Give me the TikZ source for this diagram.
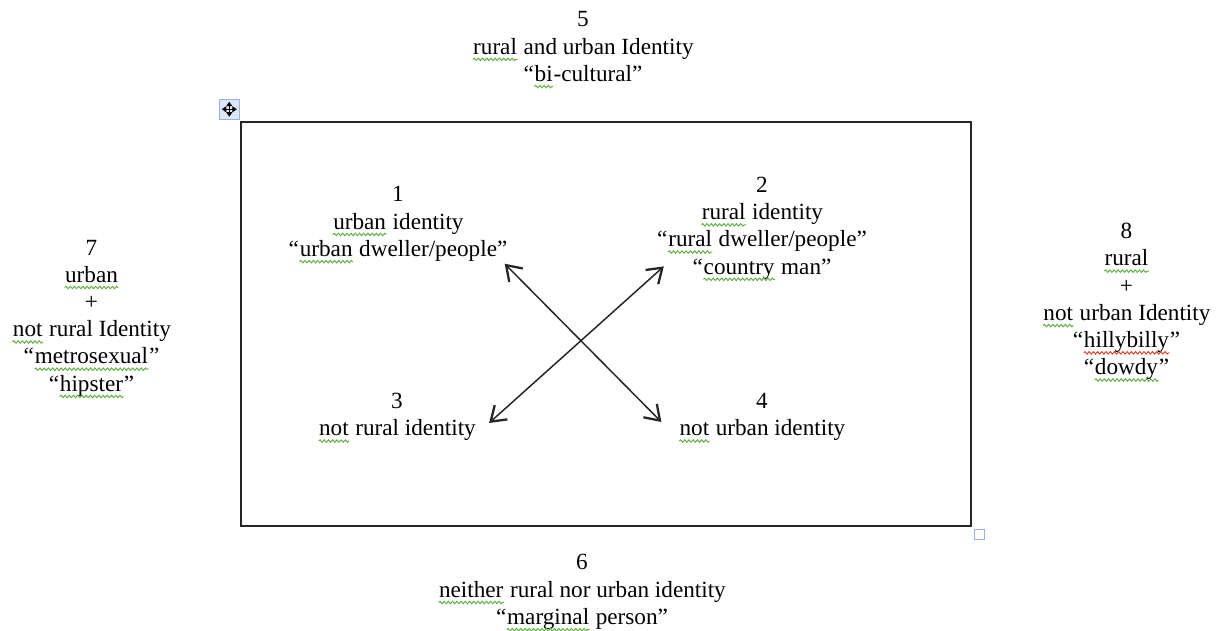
\documentclass[tikz,border=0pt]{standalone}
\usepackage{fontspec}
\setmainfont{Liberation Serif}
\usetikzlibrary{arrows.meta,positioning,decorations.pathmorphing}
\definecolor{spgreen}{RGB}{96,176,64}
\definecolor{spred}{RGB}{222,64,48}
\definecolor{hdlblue}{RGB}{150,178,236}
\definecolor{hdlfill}{RGB}{222,231,250}
% spell-check squiggle under a word
\newcommand\wavy[2]{\tikz[baseline=(w.base)]{\node[inner sep=0pt] (w) {#2};
  \draw[#1, line width=0.55pt, decorate, decoration={snake, amplitude=0.7pt, segment length=2.4pt}]
    ([yshift=-3pt]w.base west) -- ([yshift=-3pt]w.base east);}}
\newcommand\gwave[1]{\wavy{spgreen}{#1}}
\newcommand\rwave[1]{\wavy{spred}{#1}}

\begin{document}
\begin{tikzpicture}[x=0.02cm, y=-0.02cm,
  lbl/.style={align=center, inner sep=0pt, font=\fontsize{13.2}{15.5}\selectfont},
  both/.style={{Straight Barb[length=2.8mm,width=3.8mm,line width=1.3pt]}-{Straight Barb[length=2.8mm,width=3.8mm,line width=1.3pt]}, line width=0.85pt, black!85}]
\useasboundingbox (0,0) rectangle (1220,631);

% frame and its handles
\node[draw=black!85, line width=0.9pt, minimum width=14.6cm, minimum height=8.08cm, inner sep=0pt] (frame) at (606,324) {};
\node[draw=hdlblue, fill=hdlfill, minimum size=0.4cm, inner sep=0pt, line width=0.6pt] (handle) at ([xshift=-0.22cm, yshift=0.24cm]frame.north west) {};
\foreach \a in {0,90,180,270}
  \draw[-{Triangle[length=0.9mm,width=1.2mm]}, line width=0.5pt] (handle.center) -- ++(\a:0.15cm);
\node[draw=hdlblue, fill=white, minimum size=0.2cm, inner sep=0pt, line width=0.6pt] (sizer) at ([xshift=0.146cm, yshift=-0.146cm]frame.south east) {};

% inner identities
\node[lbl] (n1) at (398,225) {1\\\gwave{urban} identity\\“\gwave{urban} dweller/people”};
\node[lbl] (n2) at (762,229) {2\\\gwave{rural} identity\\“\gwave{rural} dweller/people”\\“\gwave{country} man”};
\node[lbl] (n3) at (397,418) {3\\\gwave{not} rural identity};
\node[lbl] (n4) at (762,418) {4\\\gwave{not} urban identity};

% outer identities
\node[lbl] (n5) at (583,50) {5\\\gwave{rural} and urban Identity\\“\gwave{bi}-cultural”};
\node[lbl] (n6) at (582,593) {6\\\gwave{neither} rural nor urban identity\\“\gwave{marginal} person”};
\node[lbl] (n7) at (91.5,319) {7\\\gwave{urban}\\+\\\gwave{not} rural Identity\\“\gwave{metrosexual}”\\“\gwave{hipster}”};
\node[lbl] (n8) at (1126.5,302.5) {8\\\gwave{rural}\\+\\\gwave{not} urban Identity\\“\rwave{hillybilly}”\\“\gwave{dowdy}”};

% crossing arrows
\draw[both] ([xshift=-0.06cm]n1.south east) -- ([xshift=-0.34cm, yshift=-0.08cm]n4.west);
\draw[both] ([xshift=0.14cm, yshift=0.3cm]n2.south west) -- ([xshift=0.26cm, yshift=-0.1cm]n3.east);
\end{tikzpicture}
\end{document}
